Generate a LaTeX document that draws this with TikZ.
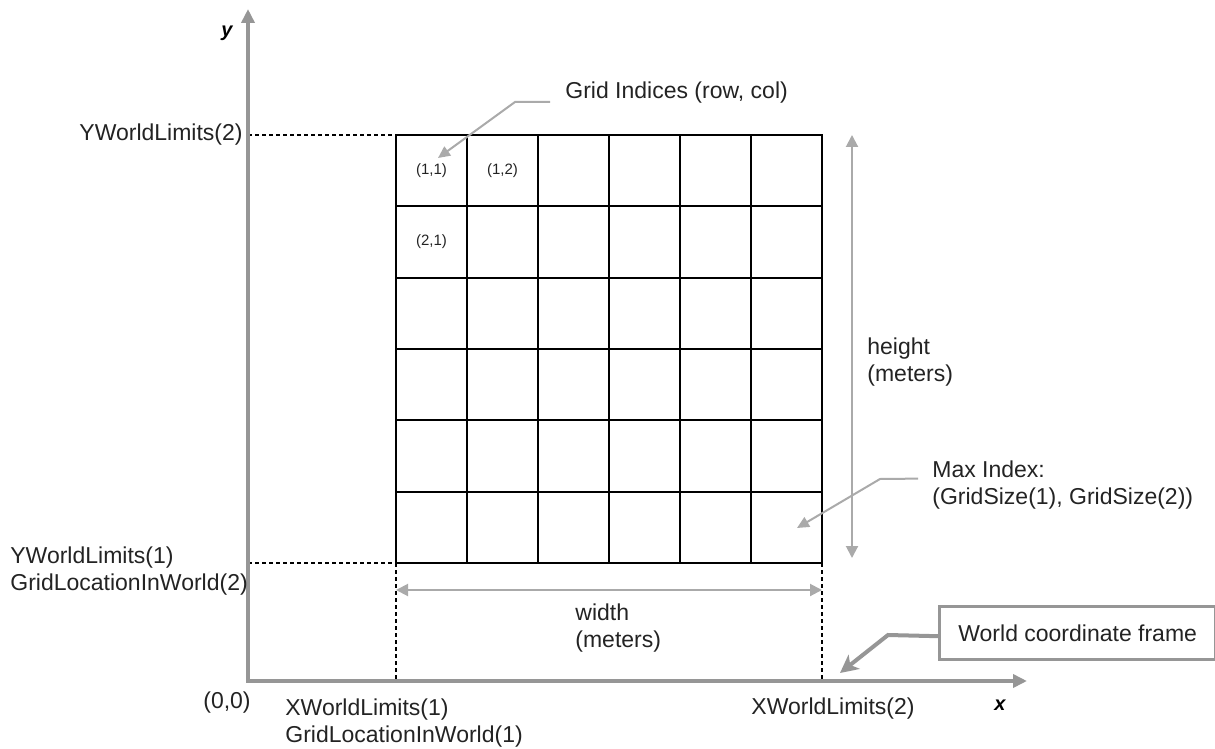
\documentclass[tikz,border=0pt]{standalone}
\usepackage{fontspec}
\setmainfont{Liberation Sans}
\usetikzlibrary{positioning,arrows.meta}

\definecolor{axisgray}{RGB}{150,150,150}
\definecolor{dimgray}{RGB}{170,170,170}
\definecolor{textgray}{RGB}{35,35,35}

\tikzset{
  lbl/.style={text=textgray, inner sep=0pt, align=left,
    font=\fontsize{11.5}{13.5}\selectfont},
  idx/.style={text=textgray, inner sep=0pt, font=\fontsize{7.5}{9}\selectfont},
  axislbl/.style={inner sep=0pt, font=\fontsize{10}{12}\selectfont\bfseries\itshape},
  axis/.style={draw=axisgray, line width=2pt, line join=miter,
    {Triangle[length=7pt,width=6.5pt]}-{Triangle[length=7pt,width=6.5pt]}},
  cellline/.style={draw=black, line width=1pt, line cap=rect},
  guide/.style={draw=black, line width=0.6pt, dash pattern=on 2pt off 1.5pt},
  dim/.style={draw=dimgray, line width=1pt,
    {Triangle[length=6pt,width=6pt]}-{Triangle[length=6pt,width=6pt]}},
  lead/.style={draw=dimgray, line width=1pt, -{Triangle[length=6pt,width=5.5pt]}},
  framebox/.style={draw=axisgray, line width=1.7pt, text=textgray, inner sep=0pt,
    minimum width=138pt, minimum height=26.5pt,
    font=\fontsize{11.5}{13.5}\selectfont},
  framelead/.style={draw=axisgray, line width=2pt,
    -{Stealth[length=9pt,width=9pt,inset=2.5pt]}},
}

\begin{document}
\begin{tikzpicture}[x=0.5pt, y=-0.5pt]
  \useasboundingbox (0,0) rectangle (1215,749);

  % axes and grid corners
  \coordinate (o) at (248,681);
  \coordinate (ytip) at (248,9);
  \coordinate (xtip) at (1027,681);
  \coordinate (nw) at (396,135);
  \coordinate (se) at (822,563);
  \coordinate (sw) at (nw |- se);
  \coordinate (ytop) at (o |- nw);
  \coordinate (ybot) at (o |- sw);
  \coordinate (xleft) at (sw |- o);
  \coordinate (xright) at (se |- o);

  % limits
  \draw[guide] (ytop) -- (nw);
  \draw[guide] (ybot) -- (sw);
  \draw[guide] (sw) -- (xleft);
  \draw[guide] (se) -- (xright);

  \draw[axis] (ytip) -- (o) -- (xtip);
  \node (ylbl) [axislbl] at (227,33) {y};
  \node (xlbl) [axislbl] at (1000,705) {x};
  \node (orig) [lbl] at (227,703) {(0,0)};

  % cells
  \foreach \i in {0,...,6} {
    \draw[cellline] (396+71*\i,135) -- (396+71*\i,563);
    \draw[cellline] (396,135+71.33*\i) -- (822,135+71.33*\i);
  }
  \node (c11) [idx] at (431.5,170.5) {(1,1)};
  \node (c12) [idx] at (502.5,170.5) {(1,2)};
  \node (c21) [idx] at (431.5,241.8) {(2,1)};

  \node (ylimtwo) [lbl, left=2.5pt of ytop] {YWorldLimits(2)};
  \node (ylimone) [lbl, anchor=north west] at (10,546) {YWorldLimits(1)\\GridLocationInWorld(2)};
  \node (xlimone) [lbl, anchor=north west] at (285,698) {XWorldLimits(1)\\GridLocationInWorld(1)};
  \node (xlimtwo) [lbl, below=8pt of xright, xshift=5.5pt] {XWorldLimits(2)};

  % size
  \coordinate (htop) at (852,135);
  \coordinate (hbot) at (852,558);
  \draw[dim] (htop) -- (hbot);
  \node (hgt) [lbl, anchor=north west] at (867,337) {height\\(meters)};

  \coordinate (wl) at (396,590);
  \coordinate (wr) at (822,590);
  \draw[dim] (wl) -- (wr);
  \node (wdt) [lbl, anchor=north west] at (575,603) {width\\(meters)};

  % callouts
  \node (gidx) [lbl, anchor=west] at (565,93) {Grid Indices (row, col)};
  \coordinate (gidxbend) at (515,102);
  \coordinate (gidxtip) at (438,158);
  \draw[lead] ([shift={(-15,9)}]gidx.west) -- (gidxbend) -- (gidxtip);

  \node (maxidx) [lbl, anchor=north west] at (932,460) {Max Index:\\(GridSize(1), GridSize(2))};
  \coordinate (maxbend) at (880,479);
  \coordinate (maxtip) at (797,528);
  \draw[lead] ([shift={(-14,-6)}]maxidx.west) -- (maxbend) -- (maxtip);

  \node (wcf) [framebox, anchor=north west] at (938,605) {World coordinate frame};
  \coordinate (wcfbend) at (888,635);
  \coordinate (wcftip) at (840,673);
  \draw[framelead] ([yshift=-1.5pt]wcf.west) -- (wcfbend) -- (wcftip);
\end{tikzpicture}
\end{document}
